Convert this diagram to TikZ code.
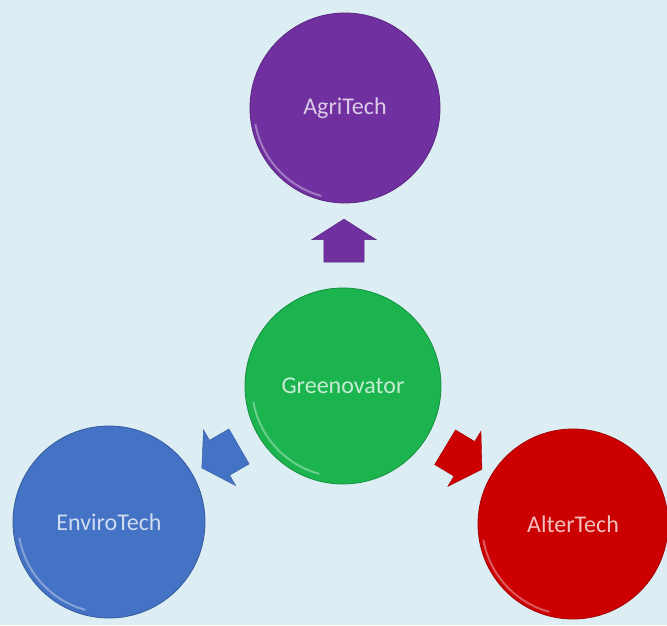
\documentclass[tikz,border=0pt]{standalone}
\usepackage{fontspec}
\setmainfont{Carlito}
\usepackage{tikz}
\usetikzlibrary{shapes.arrows}
\usetikzlibrary{calc}

\definecolor{skyback}{RGB}{220,238,244}
\definecolor{agripurple}{RGB}{112,48,160}
\definecolor{greenovgreen}{RGB}{28,180,78}
\definecolor{enviroblue}{RGB}{68,114,196}
\definecolor{alterred}{RGB}{204,0,0}

\tikzset{
    ball/.style={circle, fill=#1, draw=#1!80!black, line width=0.8pt,
        minimum size=190pt, inner sep=0pt, text=white!75!#1,
        font=\fontsize{24}{28}\selectfont,
        path picture={
            \draw[white, opacity=0.35, line width=2pt]
                ([shift={(190:91pt)}]path picture bounding box.center)
                arc[start angle=190, end angle=255, radius=91pt];
        }},
    blockarrow/.style={single arrow, fill=#1, draw=#1!80!black,
        minimum height=43pt, inner xsep=0pt, inner ysep=20pt,
        single arrow head extend=12pt, single arrow tip angle=115}
}

\begin{document}
\begin{tikzpicture}[x=1pt, y=1pt]
    \useasboundingbox[fill=skyback] (0,0) rectangle (667,625);

    % the four circles
    \node[ball=agripurple] (agri) at (345,517) {AgriTech};
    \node[ball=greenovgreen, minimum size=196pt] (green) at (343,239) {Greenovator};
    \node[ball=enviroblue, minimum size=192pt] (enviro) at (109,103) {EnviroTech};
    \node[ball=alterred] (alter) at (573,101) {AlterTech};

    % block arrows from the centre
    \node[blockarrow=agripurple, rotate=90] (toagri) at ($(green)!0.5!(agri)$) {};
    \node[blockarrow=enviroblue, rotate=210] (toenviro) at ($(green)!0.5!(enviro)$) {};
    \node[blockarrow=alterred, rotate=-31] (toalter) at ($(green)!0.5!(alter)$) {};
\end{tikzpicture}
\end{document}
